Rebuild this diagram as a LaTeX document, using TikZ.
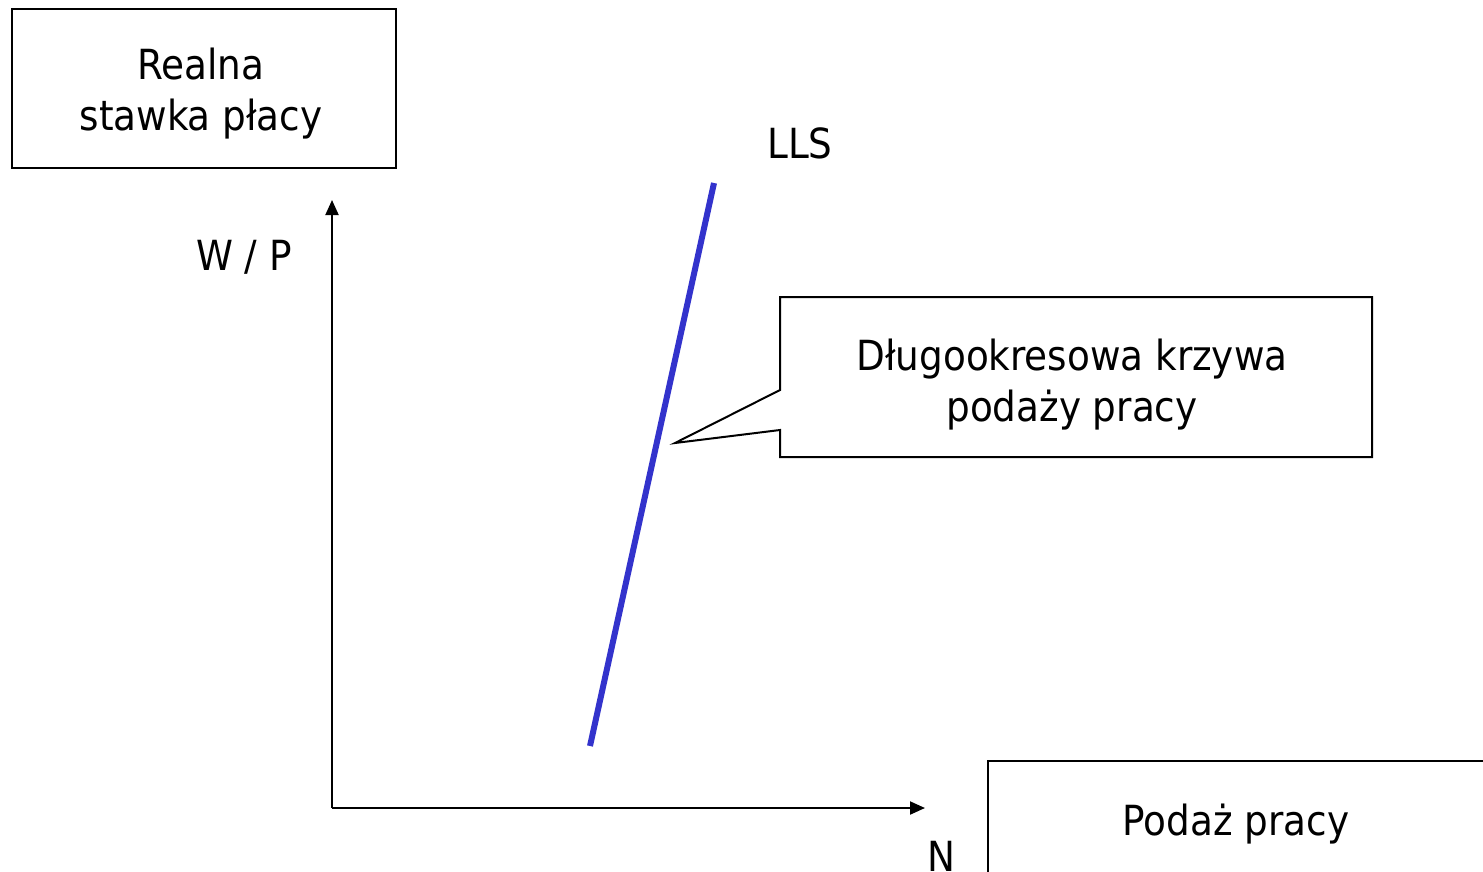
\documentclass[tikz,border=0pt]{standalone}
\usepackage{fontspec}
\setmainfont{DejaVu Sans Condensed}
\usetikzlibrary{arrows.meta}
\definecolor{llsblue}{RGB}{51,51,204}
\tikzset{
  lbl/.style={font=\fontsize{41.5}{51}\selectfont, inner sep=0pt, align=center},
  frame/.style={draw=black, line width=2pt, line join=miter},
  axis/.style={line width=2pt, -{Triangle[length=15pt,width=13pt]}},
}
\begin{document}
\begin{tikzpicture}[x=1pt,y=-1pt]
\useasboundingbox[fill=white] (0,0) rectangle (1483,871);
% top-left box
\coordinate (rwa) at (12,9);
\coordinate (rwb) at (396,168);
\draw[frame] (rwa) rectangle (rwb);
\node[lbl] (rw) at (201,94) {Realna\\stawka płacy};
% axes
\coordinate (o) at (332,808);
\coordinate (ytip) at (332,200);
\coordinate (xtip) at (925,808);
\draw[axis] (o) -- (ytip);
\draw[axis] (o) -- (xtip);
\node[lbl, anchor=base] (wp) at (244,270) {W / P};
\node[lbl, anchor=base] (n) at (941,871) {N};
% LLS curve
\coordinate (l1) at (590,746);
\coordinate (l2) at (714,183);
\draw[llsblue, line width=6pt] (l1) -- (l2);
\node[lbl, anchor=base] (lls) at (800,158) {LLS};
% callout
\coordinate (c1) at (780,390);
\coordinate (c2) at (780,297);
\coordinate (c3) at (1372,297);
\coordinate (c4) at (1372,457);
\coordinate (c5) at (780,457);
\coordinate (c6) at (780,430);
\coordinate (tip) at (675,443);
\draw[frame] (c1) -- (c2) -- (c3) -- (c4) -- (c5) -- (c6) -- (tip) -- cycle;
\node[lbl] (cb) at (1072,385) {Długookresowa krzywa\\podaży pracy};
% bottom-right box
\coordinate (p1) at (988,900);
\coordinate (p2) at (988,761);
\coordinate (p3) at (1500,761);
\draw[frame] (p1) -- (p2) -- (p3);
\node[lbl, anchor=base] (pp) at (1236,835) {Podaż pracy};
\end{tikzpicture}
\end{document}
